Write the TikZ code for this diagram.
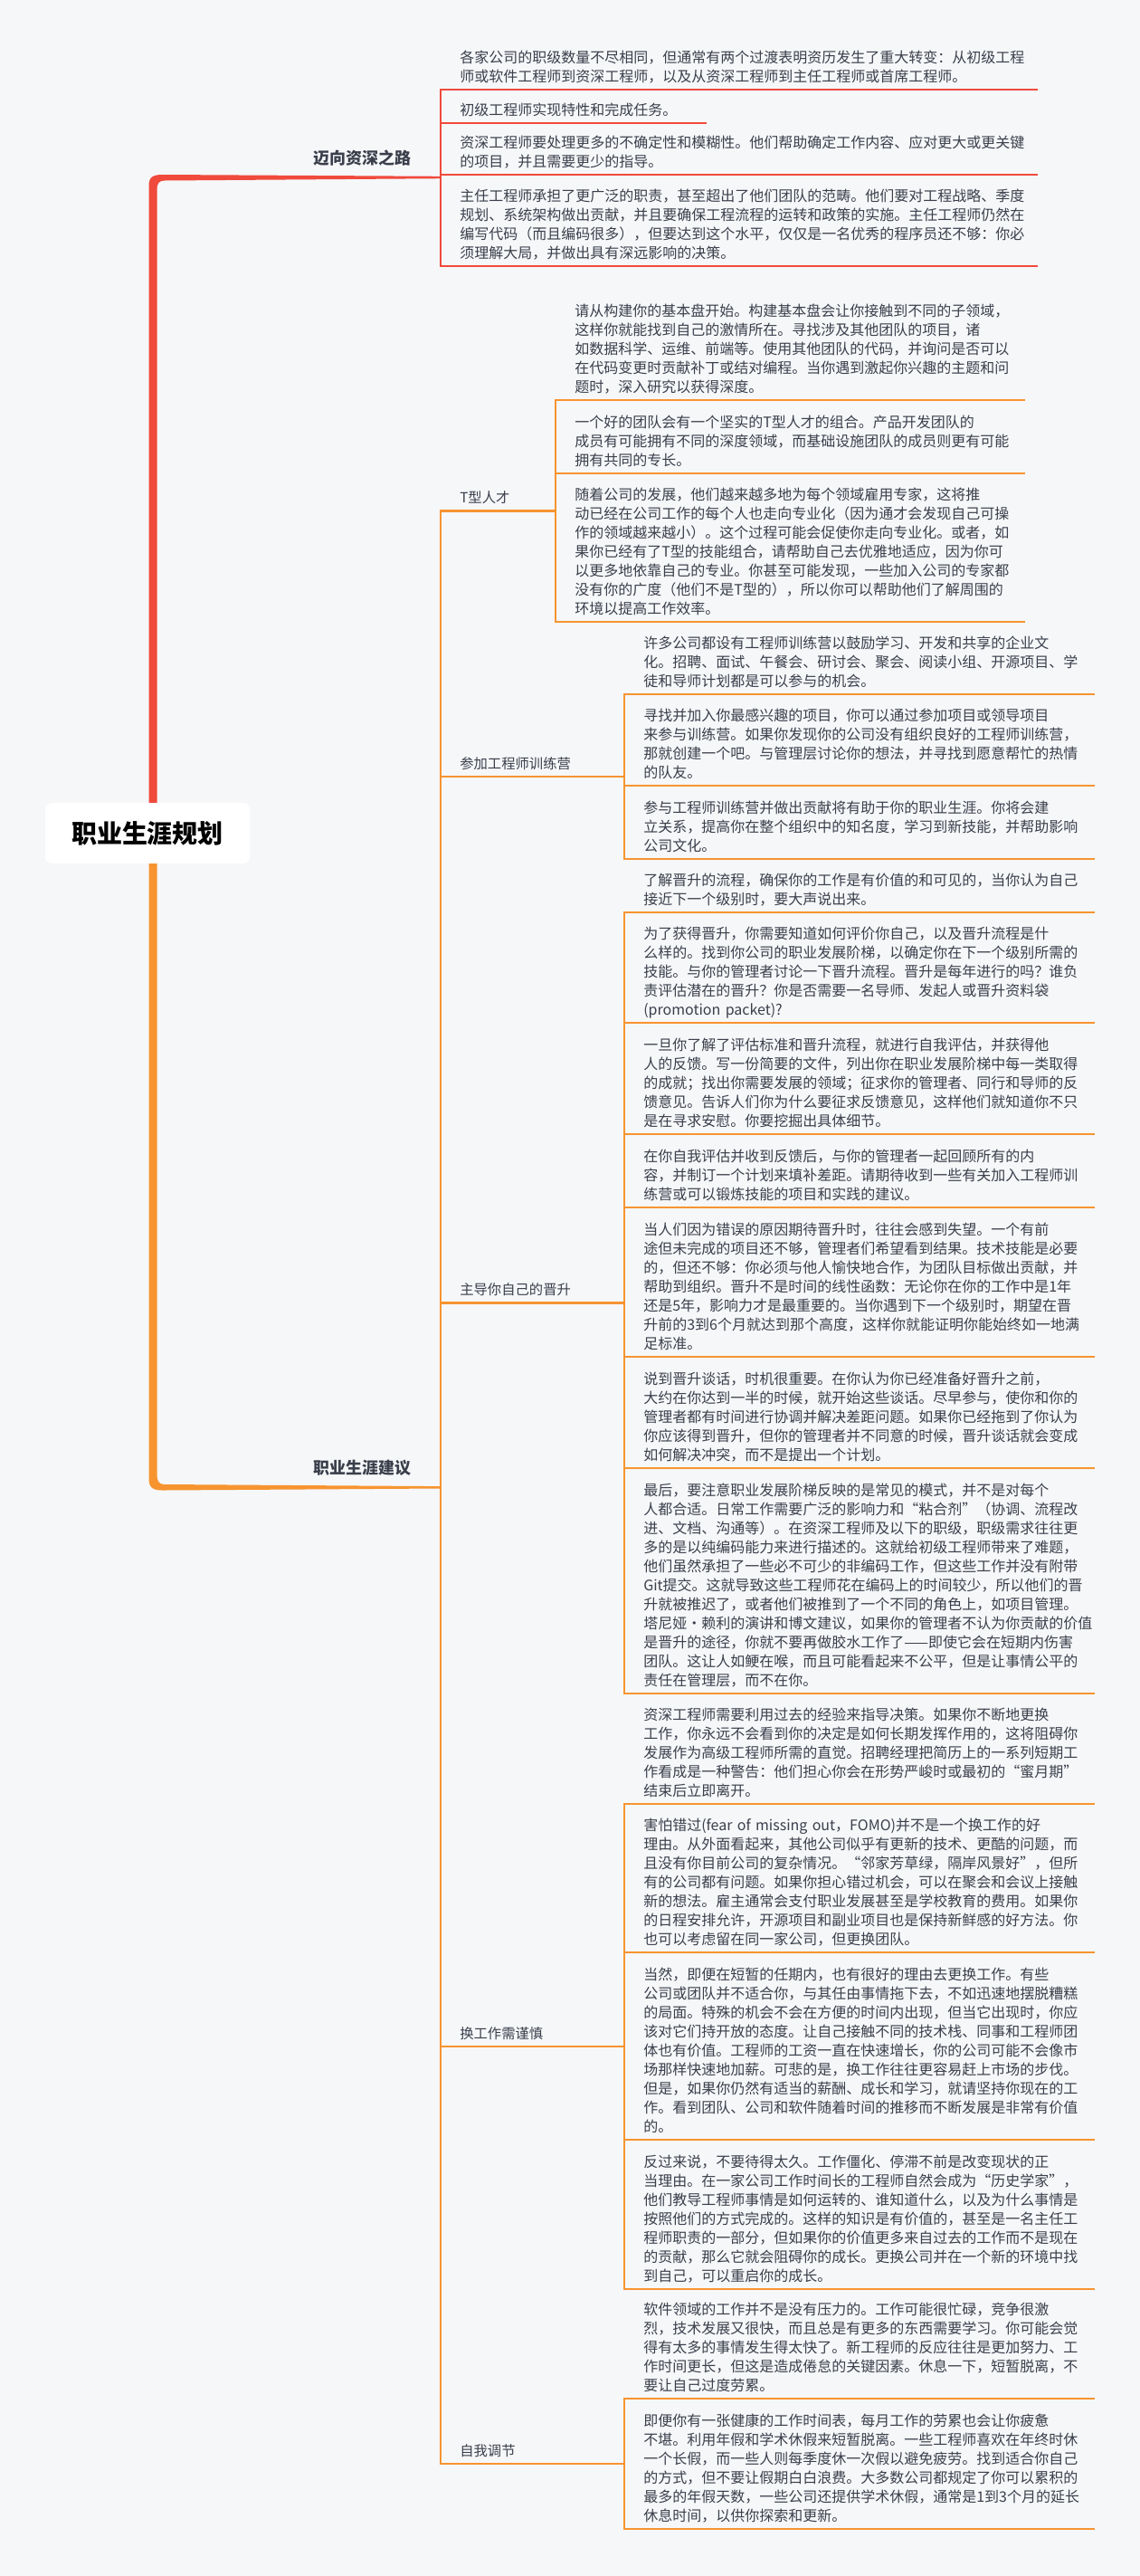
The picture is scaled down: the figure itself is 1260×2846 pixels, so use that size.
\documentclass[tikz,border=0pt]{standalone}
\usepackage{fontspec}
\setmainfont{Noto Sans CJK SC}
\usepackage{tikz}
\usetikzlibrary{calc}
\definecolor{bgc}{HTML}{F6F7F9}
\definecolor{redl}{HTML}{F04A3C}
\definecolor{orgl}{HTML}{F79430}
\definecolor{txt}{HTML}{3A3F4B}

\begin{document}
\begin{tikzpicture}[x=0.75pt,y=-0.75pt]
\path [use as bounding box, fill=bgc] (0,0) rectangle (1260,2846);
\tikzstyle{leaf} = [anchor=base west, inner sep=0, text width=480pt, align=left, text=txt, font=\fontsize{12}{15.75}\selectfont]
\tikzstyle{topic} = [anchor=base west, inner sep=0, text=txt, font=\fontsize{11.5}{14}\selectfont]
\tikzstyle{mainlbl} = [anchor=base west, inner sep=0, text=txt, font=\fontsize{13.5}{16}\selectfont\bfseries]
\tikzstyle{ln} = [line width=1.9pt, line join=miter]
% trunk
\fill[redl] (164.5,900) -- (164.5,206) .. controls (164.5,196) and (168,193) .. (180,193) -- (487,194.8) -- (487,197.2) -- (182,199.5) .. controls (176,199.5) and (173.5,202) .. (173.5,210) -- (173.5,900) -- cycle;
\fill[orgl] (164.5,940) -- (164.5,1633) .. controls (164.5,1643) and (168,1646.5) .. (180,1646.5) -- (487,1644.5) -- (487,1642.1) -- (182,1640) .. controls (176,1640) and (173.5,1637) .. (173.5,1629) -- (173.5,940) -- cycle;
\node[fill=white, rounded corners=5pt, minimum width=169.5pt, minimum height=50pt, font=\fontsize{21}{24}\selectfont\bfseries] (root) at (163,920.5) {职业生涯规划};
\node[mainlbl] (road) at (346,181) {迈向资深之路};
\node[mainlbl] (advice) at (346,1628.5) {职业生涯建议};
% red branch
\draw[ln, redl] (1147,99) -- (487,99) -- (487,294) -- (1147,294);
\draw[ln, redl] (487,136) -- (781,136);
\draw[ln, redl] (487,193) -- (1147,193);
\node[leaf] (r1) at (508,69) {各家公司的职级数量不尽相同，但通常有两个过渡表明资历发生了重大转变：从初级工程\\师或软件工程师到资深工程师，以及从资深工程师到主任工程师或首席工程师。};
\node[leaf] (r2) at (508,127) {初级工程师实现特性和完成任务。};
\node[leaf] (r3) at (508,163) {资深工程师要处理更多的不确定性和模糊性。他们帮助确定工作内容、应对更大或更关键\\的项目，并且需要更少的指导。};
\node[leaf] (r4) at (508,222) {主任工程师承担了更广泛的职责，甚至超出了他们团队的范畴。他们要对工程战略、季度\\规划、系统架构做出贡献，并且要确保工程流程的运转和政策的实施。主任工程师仍然在\\编写代码（而且编码很多），但要达到这个水平，仅仅是一名优秀的程序员还不够：你必\\须理解大局，并做出具有深远影响的决策。};
% orange branch
\draw[ln, orgl] (614,564.5) -- (487,564.5) -- (487,2722) -- (690,2722);
\foreach \u in {858,1439.5,2261}
  \draw[ln, orgl] (487,\u) -- (690,\u);
\node[topic] (ttype) at (508,555.5) {T型人才};
\node[topic] (camp) at (508,849) {参加工程师训练营};
\node[topic] (promo) at (508,1430.5) {主导你自己的晋升};
\node[topic] (job) at (508,2252) {换工作需谨慎};
\node[topic] (self) at (508,2713) {自我调节};
% T型人才
\draw[ln, orgl] (1133,442) -- (614,442) -- (614,687) -- (1133,687);
\draw[ln, orgl] (614,523) -- (1133,523);
\node[leaf] (t1) at (635,349) {请从构建你的基本盘开始。构建基本盘会让你接触到不同的子领域，\\这样你就能找到自己的激情所在。寻找涉及其他团队的项目，诸\\如数据科学、运维、前端等。使用其他团队的代码，并询问是否可以\\在代码变更时贡献补丁或结对编程。当你遇到激起你兴趣的主题和问\\题时，深入研究以获得深度。};
\node[leaf] (t2) at (635,472) {一个好的团队会有一个坚实的T型人才的组合。产品开发团队的\\成员有可能拥有不同的深度领域，而基础设施团队的成员则更有可能\\拥有共同的专长。};
\node[leaf] (t3) at (635,552) {随着公司的发展，他们越来越多地为每个领域雇用专家，这将推\\动已经在公司工作的每个人也走向专业化（因为通才会发现自己可操\\作的领域越来越小）。这个过程可能会促使你走向专业化。或者，如\\果你已经有了T型的技能组合，请帮助自己去优雅地适应，因为你可\\以更多地依靠自己的专业。你甚至可能发现，一些加入公司的专家都\\没有你的广度（他们不是T型的），所以你可以帮助他们了解周围的\\环境以提高工作效率。};
% 参加工程师训练营
\draw[ln, orgl] (1210,767) -- (690,767) -- (690,949) -- (1210,949);
\draw[ln, orgl] (690,868) -- (1210,868);
\node[leaf] (c1) at (711,716) {许多公司都设有工程师训练营以鼓励学习、开发和共享的企业文\\化。招聘、面试、午餐会、研讨会、聚会、阅读小组、开源项目、学\\徒和导师计划都是可以参与的机会。};
\node[leaf] (c2) at (711,796) {寻找并加入你最感兴趣的项目，你可以通过参加项目或领导项目\\来参与训练营。如果你发现你的公司没有组织良好的工程师训练营，\\那就创建一个吧。与管理层讨论你的想法，并寻找到愿意帮忙的热情\\的队友。};
\node[leaf] (c3) at (711,898) {参与工程师训练营并做出贡献将有助于你的职业生涯。你将会建\\立关系，提高你在整个组织中的知名度，学习到新技能，并帮助影响\\公司文化。};
% 主导你自己的晋升
\draw[ln, orgl] (1210,1008) -- (690,1008) -- (690,1871) -- (1210,1871);
\foreach \u in {1130,1253,1334,1499,1622}
  \draw[ln, orgl] (690,\u) -- (1210,\u);
\node[leaf] (p1) at (711,978) {了解晋升的流程，确保你的工作是有价值的和可见的，当你认为自己\\接近下一个级别时，要大声说出来。};
\node[leaf] (p2) at (711,1037) {为了获得晋升，你需要知道如何评价你自己，以及晋升流程是什\\么样的。找到你公司的职业发展阶梯，以确定你在下一个级别所需的\\技能。与你的管理者讨论一下晋升流程。晋升是每年进行的吗？谁负\\责评估潜在的晋升？你是否需要一名导师、发起人或晋升资料袋\\(promotion packet)?};
\node[leaf] (p3) at (711,1160) {一旦你了解了评估标准和晋升流程，就进行自我评估，并获得他\\人的反馈。写一份简要的文件，列出你在职业发展阶梯中每一类取得\\的成就；找出你需要发展的领域；征求你的管理者、同行和导师的反\\馈意见。告诉人们你为什么要征求反馈意见，这样他们就知道你不只\\是在寻求安慰。你要挖掘出具体细节。};
\node[leaf] (p4) at (711,1283) {在你自我评估并收到反馈后，与你的管理者一起回顾所有的内\\容，并制订一个计划来填补差距。请期待收到一些有关加入工程师训\\练营或可以锻炼技能的项目和实践的建议。};
\node[leaf] (p5) at (711,1364) {当人们因为错误的原因期待晋升时，往往会感到失望。一个有前\\途但未完成的项目还不够，管理者们希望看到结果。技术技能是必要\\的，但还不够：你必须与他人愉快地合作，为团队目标做出贡献，并\\帮助到组织。晋升不是时间的线性函数：无论你在你的工作中是1年\\还是5年，影响力才是最重要的。当你遇到下一个级别时，期望在晋\\升前的3到6个月就达到那个高度，这样你就能证明你能始终如一地满\\足标准。};
\node[leaf] (p6) at (711,1529) {说到晋升谈话，时机很重要。在你认为你已经准备好晋升之前，\\大约在你达到一半的时候，就开始这些谈话。尽早参与，使你和你的\\管理者都有时间进行协调并解决差距问题。如果你已经拖到了你认为\\你应该得到晋升，但你的管理者并不同意的时候，晋升谈话就会变成\\如何解决冲突，而不是提出一个计划。};
\node[leaf] (p7) at (711,1652) {最后，要注意职业发展阶梯反映的是常见的模式，并不是对每个\\人都合适。日常工作需要广泛的影响力和“粘合剂”（协调、流程改\\进、文档、沟通等）。在资深工程师及以下的职级，职级需求往往更\\多的是以纯编码能力来进行描述的。这就给初级工程师带来了难题，\\他们虽然承担了一些必不可少的非编码工作，但这些工作并没有附带\\Git提交。这就导致这些工程师花在编码上的时间较少，所以他们的晋\\升就被推迟了，或者他们被推到了一个不同的角色上，如项目管理。\\塔尼娅·赖利的演讲和博文建议，如果你的管理者不认为你贡献的价值\\是晋升的途径，你就不要再做胶水工作了——即使它会在短期内伤害\\团队。这让人如鲠在喉，而且可能看起来不公平，但是让事情公平的\\责任在管理层，而不在你。};
% 换工作需谨慎
\draw[ln, orgl] (1210,1993) -- (690,1993) -- (690,2529) -- (1210,2529);
\foreach \u in {2157,2364}
  \draw[ln, orgl] (690,\u) -- (1210,\u);
\node[leaf] (s1) at (711,1900) {资深工程师需要利用过去的经验来指导决策。如果你不断地更换\\工作，你永远不会看到你的决定是如何长期发挥作用的，这将阻碍你\\发展作为高级工程师所需的直觉。招聘经理把简历上的一系列短期工\\作看成是一种警告：他们担心你会在形势严峻时或最初的“蜜月期”\\结束后立即离开。};
\node[leaf] (s2) at (711,2022) {害怕错过(fear of missing out，FOMO)并不是一个换工作的好\\理由。从外面看起来，其他公司似乎有更新的技术、更酷的问题，而\\且没有你目前公司的复杂情况。“邻家芳草绿，隔岸风景好”，但所\\有的公司都有问题。如果你担心错过机会，可以在聚会和会议上接触\\新的想法。雇主通常会支付职业发展甚至是学校教育的费用。如果你\\的日程安排允许，开源项目和副业项目也是保持新鲜感的好方法。你\\也可以考虑留在同一家公司，但更换团队。};
\node[leaf] (s3) at (711,2187) {当然，即便在短暂的任期内，也有很好的理由去更换工作。有些\\公司或团队并不适合你，与其任由事情拖下去，不如迅速地摆脱糟糕\\的局面。特殊的机会不会在方便的时间内出现，但当它出现时，你应\\该对它们持开放的态度。让自己接触不同的技术栈、同事和工程师团\\体也有价值。工程师的工资一直在快速增长，你的公司可能不会像市\\场那样快速地加薪。可悲的是，换工作往往更容易赶上市场的步伐。\\但是，如果你仍然有适当的薪酬、成长和学习，就请坚持你现在的工\\作。看到团队、公司和软件随着时间的推移而不断发展是非常有价值\\的。};
\node[leaf] (s4) at (711,2394) {反过来说，不要待得太久。工作僵化、停滞不前是改变现状的正\\当理由。在一家公司工作时间长的工程师自然会成为“历史学家”，\\他们教导工程师事情是如何运转的、谁知道什么，以及为什么事情是\\按照他们的方式完成的。这样的知识是有价值的，甚至是一名主任工\\程师职责的一部分，但如果你的价值更多来自过去的工作而不是现在\\的贡献，那么它就会阻碍你的成长。更换公司并在一个新的环境中找\\到自己，可以重启你的成长。};
% 自我调节
\draw[ln, orgl] (1210,2650) -- (690,2650) -- (690,2794) -- (1210,2794);
\node[leaf] (h1) at (711,2557) {软件领域的工作并不是没有压力的。工作可能很忙碌，竞争很激\\烈，技术发展又很快，而且总是有更多的东西需要学习。你可能会觉\\得有太多的事情发生得太快了。新工程师的反应往往是更加努力、工\\作时间更长，但这是造成倦怠的关键因素。休息一下，短暂脱离，不\\要让自己过度劳累。};
\node[leaf] (h2) at (711,2680) {即便你有一张健康的工作时间表，每月工作的劳累也会让你疲惫\\不堪。利用年假和学术休假来短暂脱离。一些工程师喜欢在年终时休\\一个长假，而一些人则每季度休一次假以避免疲劳。找到适合你自己\\的方式，但不要让假期白白浪费。大多数公司都规定了你可以累积的\\最多的年假天数，一些公司还提供学术休假，通常是1到3个月的延长\\休息时间，以供你探索和更新。};
\end{tikzpicture}
\end{document}
